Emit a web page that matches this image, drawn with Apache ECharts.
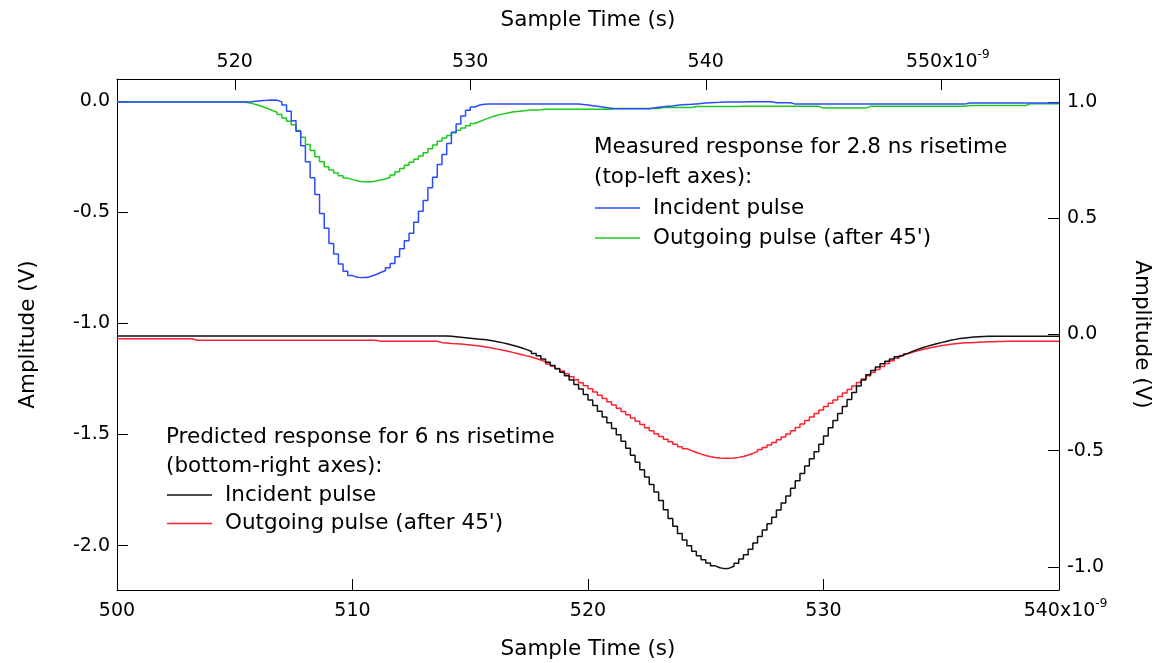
<!DOCTYPE html>
<html>
<head>
<meta charset="utf-8">
<script src="https://cdn.jsdelivr.net/npm/echarts@6/dist/echarts.min.js"></script>
<style>
html,body{margin:0;padding:0;background:#ffffff;}
#chart{width:1168px;height:663px;}
</style>
</head>
<body>
<div id="chart"></div>
<script>
// ---------- data ----------
const sampleStepNs = 0.2;          // sampling interval of all four records (ns)
const measuredStartNs = 515.0;     // first sample of the measured records (top axis)
const predictedStartNs = 500.0;    // first sample of the predicted records (bottom axis)

// Measured response, 2.8 ns risetime (top / left axes), volts
const incidentMeasured = [
-0.004,-0.004,-0.004,-0.004,-0.004,-0.004,-0.004,-0.004,-0.004,-0.004,
-0.004,-0.004,-0.004,-0.004,-0.004,-0.004,-0.004,-0.004,-0.004,-0.004,
-0.004,-0.004,-0.004,-0.004,-0.004,-0.004,-0.004,
-0.003,-0.001,0.001,0.003,0.004,0.006,0.004,-0.003,-0.017,-0.045,
-0.088,-0.135,-0.2,-0.272,-0.345,-0.42,-0.505,-0.572,-0.64,-0.688,
-0.733,-0.765,-0.785,-0.792,-0.794,-0.793,-0.788,-0.78,-0.771,-0.762,
-0.75,-0.73,-0.7,-0.664,-0.628,-0.594,-0.545,-0.495,-0.447,-0.39,
-0.342,-0.285,-0.24,-0.19,-0.14,-0.103,-0.066,-0.041,-0.026,-0.017,
-0.014,
-0.013,-0.013,-0.013,-0.013,-0.013,-0.013,-0.013,-0.013,-0.013,-0.013,
-0.013,-0.013,-0.013,-0.013,-0.013,-0.013,-0.013,-0.013,-0.013,-0.013,
-0.015,-0.017,-0.02,-0.023,-0.026,-0.029,-0.032,
-0.034,-0.034,-0.034,-0.034,-0.034,-0.034,-0.034,-0.034,
-0.03,-0.027,-0.025,-0.023,-0.021,-0.018,-0.016,-0.015,-0.014,-0.012,-0.01,-0.008,-0.007,-0.006,-0.005,
-0.003,-0.003,-0.003,-0.003,-0.003,
-0.002,-0.002,-0.002,-0.002,-0.002,-0.002,
-0.007,-0.007,-0.007,-0.007,
-0.013,-0.013,-0.013,-0.013,-0.013,-0.013,-0.013,-0.013,-0.013,-0.013,
-0.013,-0.013,-0.013,-0.013,-0.013,-0.013,-0.013,-0.013,-0.013,-0.013,
-0.013,-0.013,-0.013,-0.013,-0.013,-0.013,-0.013,-0.013,-0.013,-0.013,
-0.013,-0.013,-0.013,-0.013,-0.013,-0.013,-0.013,
-0.008,-0.008,-0.008,-0.008,-0.008,-0.008,-0.008,-0.008,-0.008,-0.008,
-0.008,-0.008,-0.008,-0.008,-0.008,-0.008,-0.008,-0.008,-0.008,-0.008,
-0.008
];
const outgoingMeasured = [
-0.004,-0.004,-0.004,-0.004,-0.004,-0.004,-0.004,-0.004,-0.004,-0.004,
-0.004,-0.004,-0.004,-0.004,-0.004,-0.004,-0.004,-0.004,-0.004,-0.004,
-0.004,-0.004,-0.004,-0.004,-0.004,-0.004,-0.004,
-0.007,-0.012,-0.018,-0.025,-0.033,-0.042,-0.05,-0.06,-0.075,-0.09,
-0.106,-0.132,-0.162,-0.195,-0.222,-0.25,-0.273,-0.295,-0.31,-0.323,
-0.336,-0.346,-0.353,-0.358,-0.362,-0.363,-0.362,-0.359,-0.355,-0.35,
-0.342,-0.332,-0.318,-0.303,-0.288,-0.275,-0.261,-0.247,-0.232,-0.214,
-0.197,-0.18,-0.166,-0.154,-0.142,-0.131,-0.12,-0.11,-0.1,-0.091,
-0.083,-0.075,-0.068,-0.062,-0.057,-0.053,-0.049,-0.046,-0.044,-0.042,
-0.04,-0.039,-0.038,
-0.036,-0.036,-0.036,-0.036,-0.036,-0.036,-0.036,-0.036,-0.036,-0.036,-0.036,-0.036,-0.036,-0.036,-0.036,
-0.033,-0.033,-0.033,-0.033,-0.033,-0.033,-0.033,-0.033,-0.033,-0.033,
-0.028,-0.028,-0.028,-0.028,-0.028,-0.028,-0.028,
-0.024,-0.024,-0.024,-0.024,-0.024,-0.024,-0.024,-0.024,-0.024,-0.024,
-0.023,-0.023,-0.023,-0.023,-0.023,-0.023,-0.023,-0.023,-0.023,-0.023,
-0.023,-0.023,-0.023,-0.023,-0.023,-0.023,-0.023,
-0.031,-0.031,-0.031,-0.031,-0.031,-0.031,-0.031,-0.031,-0.031,-0.031,
-0.023,-0.023,-0.023,-0.023,-0.023,-0.023,-0.023,-0.023,-0.023,-0.023,
-0.023,-0.023,-0.023,-0.023,-0.023,-0.023,-0.023,-0.023,-0.023,-0.023,
-0.023,
-0.019,-0.019,-0.019,-0.019,-0.019,-0.019,-0.019,-0.019,-0.019,-0.019,-0.019,-0.019,-0.019,
-0.011,-0.011,-0.011,-0.011,-0.011,-0.011,-0.011,-0.011
];

// Predicted response, 6 ns risetime (bottom / right axes), volts
const incidentPredicted = [
-0.006,-0.006,-0.006,-0.006,-0.006,-0.006,-0.006,-0.006,-0.006,-0.006,
-0.006,-0.006,-0.006,-0.006,-0.006,-0.006,-0.006,-0.006,-0.006,-0.006,
-0.006,-0.006,-0.006,-0.006,-0.006,-0.006,-0.006,-0.006,-0.006,-0.006,
-0.006,-0.006,-0.006,-0.006,-0.006,-0.006,-0.006,-0.006,-0.006,-0.006,
-0.006,-0.006,-0.006,-0.006,-0.006,-0.006,-0.006,-0.006,-0.006,-0.006,
-0.006,-0.006,-0.006,-0.006,-0.006,-0.006,-0.006,-0.006,-0.006,-0.006,
-0.006,-0.006,-0.006,-0.006,-0.006,-0.006,-0.006,-0.006,-0.006,-0.006,
-0.008,-0.01,-0.012,-0.014,-0.016,-0.018,-0.02,-0.022,-0.025,-0.028,
-0.032,-0.036,-0.041,-0.046,-0.052,-0.058,-0.065,-0.073,-0.082,-0.092,
-0.106,-0.12,-0.133,-0.147,-0.162,-0.178,-0.196,-0.215,-0.235,-0.258,
-0.282,-0.306,-0.33,-0.355,-0.38,-0.405,-0.432,-0.46,-0.49,-0.52,
-0.55,-0.582,-0.614,-0.646,-0.678,-0.715,-0.755,-0.792,-0.825,-0.857,
-0.885,-0.91,-0.933,-0.953,-0.97,-0.984,-0.996,-1.004,-1.008,-1.006,
-0.998,-0.985,-0.967,-0.948,-0.925,-0.898,-0.87,-0.842,-0.815,-0.787,
-0.756,-0.725,-0.695,-0.662,-0.63,-0.598,-0.566,-0.535,-0.505,-0.472,
-0.437,-0.402,-0.37,-0.34,-0.31,-0.28,-0.25,-0.222,-0.196,-0.173,
-0.155,-0.14,-0.126,-0.115,-0.105,-0.096,-0.088,-0.08,-0.072,-0.064,
-0.057,-0.051,-0.045,-0.04,-0.035,-0.03,-0.025,-0.021,-0.017,-0.015,
-0.013,-0.011,-0.01,-0.009,-0.008,
-0.007,-0.007,-0.007,-0.007,-0.007,-0.007,-0.007,-0.007,
-0.007,-0.007,-0.007,-0.007,-0.007,-0.007,-0.007,-0.007
];
const outgoingPredicted = [
-0.018,-0.018,-0.018,-0.018,-0.018,-0.018,-0.018,-0.018,-0.018,-0.018,-0.018,-0.018,-0.018,-0.018,-0.018,-0.018,
-0.025,-0.025,-0.025,-0.025,-0.025,-0.025,-0.025,-0.025,-0.025,-0.025,
-0.025,-0.025,-0.025,-0.025,-0.025,-0.025,-0.025,-0.025,-0.025,-0.025,
-0.025,-0.025,-0.025,-0.025,-0.025,-0.025,-0.025,-0.025,-0.025,-0.025,
-0.025,-0.025,-0.025,-0.025,-0.025,-0.025,-0.025,-0.025,-0.025,
-0.029,-0.029,-0.029,-0.029,-0.029,-0.029,-0.029,-0.029,-0.029,-0.029,-0.029,-0.029,-0.029,
-0.035,-0.037,-0.039,-0.04,-0.041,-0.043,-0.045,
-0.047,-0.05,-0.053,-0.056,-0.06,-0.064,-0.068,-0.072,-0.077,-0.082,
-0.087,-0.092,-0.097,-0.103,-0.11,-0.118,-0.127,-0.136,-0.146,-0.157,
-0.169,-0.182,-0.195,-0.208,-0.221,-0.234,-0.248,-0.262,-0.276,-0.29,
-0.304,-0.318,-0.332,-0.346,-0.36,-0.374,-0.388,-0.401,-0.414,-0.427,
-0.439,-0.451,-0.462,-0.473,-0.483,-0.492,-0.5,-0.508,-0.515,-0.521,
-0.526,-0.53,-0.532,-0.533,-0.533,-0.532,-0.529,-0.525,-0.519,-0.512,
-0.504,-0.495,-0.486,-0.476,-0.465,-0.453,-0.441,-0.428,-0.414,-0.4,
-0.385,-0.37,-0.355,-0.34,-0.325,-0.31,-0.296,-0.282,-0.267,-0.252,
-0.237,-0.222,-0.207,-0.192,-0.178,-0.164,-0.151,-0.138,-0.125,-0.113,
-0.102,-0.092,-0.083,-0.076,-0.07,-0.065,-0.06,-0.056,-0.052,-0.048,
-0.045,-0.042,-0.04,-0.038,-0.036,-0.035,-0.034,-0.033,-0.032,-0.031,
-0.031,-0.03,-0.03,
-0.029,-0.029,-0.029,-0.029,-0.029,-0.029,-0.029,-0.029,-0.029,-0.029,-0.029,-0.029,-0.029
];

// axis ticks
const topTicks = [520, 530, 540, 550];
const bottomTicks = [500, 510, 520, 530, 540];
const leftTicks = [-2.0, -1.5, -1.0, -0.5, 0.0];
const rightTicks = [-1.0, -0.5, 0.0, 0.5, 1.0];

// texts
const axisTitleX = 'Sample Time (s)';
const axisTitleY = 'Amplitude (V)';
const exponentText = '-9';
const seriesNames = ['Incident pulse', "Outgoing pulse (after 45')"];
const measuredHeader = ['Measured response for 2.8 ns risetime', '(top-left axes):'];
const predictedHeader = ['Predicted response for 6 ns risetime', '(bottom-right axes):'];

// ---------- styling ----------
const FONT = 'DejaVu Sans';
const C_BLUE = '#2a4cff';
const C_GREEN = '#1fc81f';
const C_BLACK = '#111111';
const C_RED = '#ff2030';
const LINE_W = 1.5;

function toPairs(values, start) {
  return values.map((v, i) => [Math.round((start + i * sampleStepNs) * 10) / 10, v]);
}

const tickLabelRich = {
  m: { fontSize: 19, fontFamily: FONT, color: '#000', lineHeight: 19, padding: [8, 0, 0, 0] },
  mx: { fontSize: 19, fontFamily: FONT, color: '#000', lineHeight: 19, padding: [8, 0, 0, 13] },
  s: { fontSize: 12, fontFamily: FONT, color: '#000', lineHeight: 12, verticalAlign: 'top' }
};
function xLabel(lastValue) {
  return function (v) {
    if (Math.abs(v - lastValue) < 1e-9) return '{mx|' + v + 'x10}{s|' + exponentText + '}';
    return '{m|' + v + '}';
  };
}

const axisLineStyle = { show: true, onZero: false, lineStyle: { color: '#000', width: 1 } };
const nameStyle = { fontSize: 21.5, fontFamily: FONT, color: '#000' };

const chart = echarts.init(document.getElementById('chart'), null, { renderer: 'canvas' });

const option = {
  animation: false,
  backgroundColor: '#ffffff',
  grid: { left: 117, right: 109, top: 79, bottom: 73, containLabel: false, outerBoundsMode: 'none' },
  xAxis: [
    {
      type: 'value', position: 'bottom', min: 500, max: 540, interval: 10,
      name: axisTitleX, nameLocation: 'middle', nameGap: 48, nameTextStyle: nameStyle,
      axisLine: axisLineStyle,
      axisTick: { show: true, inside: true, length: 11, customValues: bottomTicks, lineStyle: { color: '#000', width: 1 } },
      axisLabel: { show: true, customValues: bottomTicks, margin: 8, showMinLabel: true, showMaxLabel: true,
        formatter: xLabel(540), rich: tickLabelRich },
      splitLine: { show: false }
    },
    {
      type: 'value', position: 'top', min: 515, max: 555,
      name: axisTitleX, nameLocation: 'middle', nameGap: 48, nameTextStyle: nameStyle,
      axisLine: axisLineStyle,
      axisTick: { show: true, inside: true, length: 11, customValues: topTicks, lineStyle: { color: '#000', width: 1 } },
      axisLabel: { show: true, customValues: topTicks, margin: 11, showMinLabel: true, showMaxLabel: true,
        formatter: xLabel(550), rich: tickLabelRich },
      splitLine: { show: false }
    }
  ],
  yAxis: [
    {
      type: 'value', position: 'left', min: -2.2, max: 0.1,
      name: axisTitleY, nameLocation: 'middle', nameGap: 78, nameRotate: 90, nameTextStyle: nameStyle,
      axisLine: axisLineStyle,
      axisTick: { show: true, inside: true, length: 11, customValues: leftTicks, lineStyle: { color: '#000', width: 1 } },
      axisLabel: { show: true, customValues: leftTicks, margin: 7, fontSize: 19, fontFamily: FONT, color: '#000',
        formatter: v => v.toFixed(1) },
      splitLine: { show: false }
    },
    {
      type: 'value', position: 'right', min: -1.1, max: 1.1,
      name: axisTitleY, nameLocation: 'middle', nameGap: 72, nameRotate: -90, nameTextStyle: nameStyle,
      axisLine: axisLineStyle,
      axisTick: { show: true, inside: true, length: 11, customValues: rightTicks, lineStyle: { color: '#000', width: 1 } },
      axisLabel: { show: true, customValues: rightTicks, margin: 8, fontSize: 19, fontFamily: FONT, color: '#000',
        formatter: v => v.toFixed(1) },
      splitLine: { show: false }
    }
  ],
  series: [
    { name: seriesNames[1] + ' (predicted)', type: 'line', xAxisIndex: 0, yAxisIndex: 1, step: 'end',
      showSymbol: false, symbol: 'none', data: toPairs(outgoingPredicted, predictedStartNs),
      lineStyle: { color: C_RED, width: LINE_W }, itemStyle: { color: C_RED } },
    { name: seriesNames[0] + ' (predicted)', type: 'line', xAxisIndex: 0, yAxisIndex: 1, step: 'end',
      showSymbol: false, symbol: 'none', data: toPairs(incidentPredicted, predictedStartNs),
      lineStyle: { color: C_BLACK, width: LINE_W }, itemStyle: { color: C_BLACK } },
    { name: seriesNames[1] + ' (measured)', type: 'line', xAxisIndex: 1, yAxisIndex: 0, step: 'end',
      showSymbol: false, symbol: 'none', data: toPairs(outgoingMeasured, measuredStartNs),
      lineStyle: { color: C_GREEN, width: LINE_W }, itemStyle: { color: C_GREEN } },
    { name: seriesNames[0] + ' (measured)', type: 'line', xAxisIndex: 1, yAxisIndex: 0, step: 'end',
      showSymbol: false, symbol: 'none', data: toPairs(incidentMeasured, measuredStartNs),
      lineStyle: { color: C_BLUE, width: LINE_W }, itemStyle: { color: C_BLUE } }
  ],
  graphic: []
};

// hand-made legends (text + line samples)
function legendBlock(x, ys, header, colors) {
  const els = [];
  const txt = (t, tx, ty) => ({
    type: 'text', silent: true, z: 10,
    style: { text: t, x: tx, y: ty, fill: '#000', fontSize: 21.5, fontFamily: FONT,
      textAlign: 'left', textVerticalAlign: 'middle', align: 'left', verticalAlign: 'middle' }
  });
  els.push(txt(header[0], x, ys[0]));
  els.push(txt(header[1], x, ys[1]));
  for (let i = 0; i < 2; i++) {
    els.push({ type: 'line', silent: true, z: 10,
      shape: { x1: x + 1, y1: ys[2 + i], x2: x + 46, y2: ys[2 + i] },
      style: { stroke: colors[i], lineWidth: 1.3 } });
    els.push(txt(seriesNames[i], x + 59, ys[2 + i]));
  }
  return els;
}
option.graphic = [].concat(
  legendBlock(594, [147, 177.5, 208, 238], measuredHeader, [C_BLUE, C_GREEN]),
  legendBlock(166, [437, 466.5, 495, 523.5], predictedHeader, [C_BLACK, C_RED])
);

chart.setOption(option);
</script>
</body>
</html>
